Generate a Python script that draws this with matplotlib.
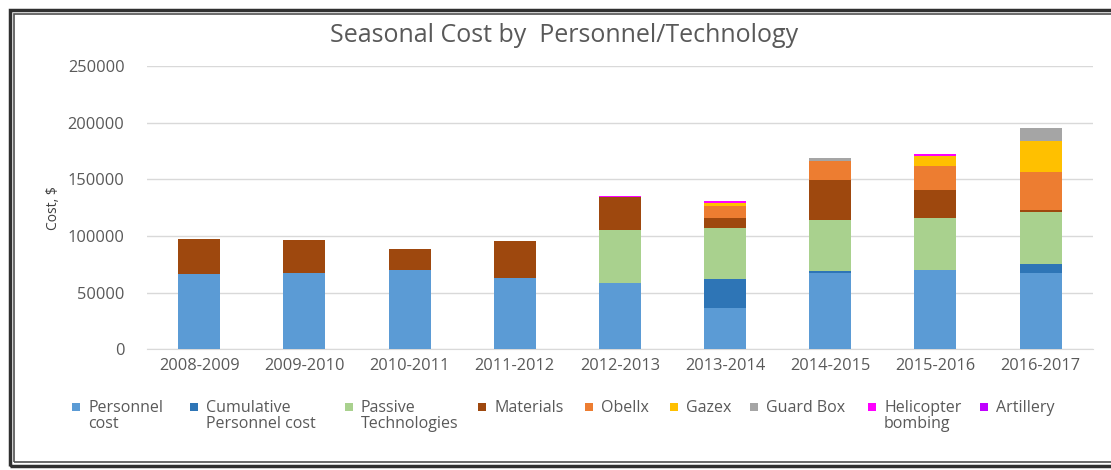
import matplotlib
matplotlib.use("Agg")
import matplotlib.pyplot as plt
from matplotlib.patches import Rectangle
import numpy as np

seasons = ["2008-2009", "2009-2010", "2010-2011", "2011-2012", "2012-2013",
           "2013-2014", "2014-2015", "2015-2016", "2016-2017"]
personnel = [66800, 67700, 69800, 63300, 58500, 36800, 67700, 70400, 67700]
cumulative = [0, 0, 0, 0, 0, 25000, 1200, 0, 8000]
passive = [0, 0, 0, 0, 46600, 45300, 45600, 45900, 45500]
materials = [30900, 29100, 18500, 32500, 29400, 9200, 35300, 24700, 2200]
obelix = [0, 0, 0, 0, 0, 10400, 16200, 21200, 32900]
gazex = [0, 0, 0, 0, 0, 2200, 0, 8800, 27900]
guard_box = [0, 0, 0, 0, 0, 0, 3300, 0, 11200]
helicopter = [0, 0, 0, 0, 600, 1800, 0, 1200, 0]
artillery = [0, 0, 0, 0, 500, 500, 0, 500, 0]

labels = ["Personnel\ncost", "Cumulative\nPersonnel cost", "Passive\nTechnologies",
          "Materials", "Obellx", "Gazex", "Guard Box", "Helicopter\nbombing", "Artillery"]
colors = ["#5B9BD5", "#2E75B6", "#A9D18E", "#9E480E", "#ED7D31", "#FFC000",
          "#A5A5A5", "#FF00FF", "#C000FF"]
series = [personnel, cumulative, passive, materials, obelix, gazex, guard_box,
          helicopter, artillery]
yticks = [0, 50000, 100000, 150000, 200000, 250000]

plt.rcParams['font.family'] = ['Open Sans', 'DejaVu Sans']

W, H = 1111, 470
fig = plt.figure(figsize=(W / 100, H / 100), dpi=100)
ax = fig.add_axes([0.132, 0.257, 0.852, 0.602])

x = np.arange(len(seasons))
bottom = np.zeros(len(seasons))
for vals, lab, col in zip(series, labels, colors):
    v = np.array(vals, dtype=float)
    ax.bar(x, v, 0.4, bottom=bottom, color=col, label=lab, zorder=3)
    bottom += v

ax.set_xlim(-0.5, len(seasons) - 0.5)
ax.set_ylim(0, 250000)
ax.set_yticks(yticks)
ax.set_yticklabels([str(t) for t in yticks])
ax.set_xticks(x)
ax.set_xticklabels(seasons)
ax.grid(axis='y', color='#D9D9D9', linewidth=1, zorder=0)
for s in ['top', 'right', 'left']:
    ax.spines[s].set_visible(False)
ax.spines['bottom'].set_color('#D9D9D9')
ax.tick_params(axis='both', length=0, colors='#595959', labelsize=11.8)
ax.tick_params(axis='y', pad=16)
ax.tick_params(axis='x', pad=6)
ax.set_ylabel("Cost, $", fontsize=10, color='#404040', labelpad=5)

fig.text(0.508, 0.925, "Seasonal Cost by  Personnel/Technology", ha='center', va='center',
         fontsize=18, color='#595959')

# legend (manual layout, Excel-style wrapped entries)
marker_x = [72, 190, 345, 478, 585, 670, 750, 868, 980]
for mx, lab, col in zip(marker_x, labels, colors):
    fig.patches.append(Rectangle((mx / W, (H - 411) / H), 8 / W, 8 / H,
                                 transform=fig.transFigure, facecolor=col, edgecolor='none'))
    for i, line in enumerate(lab.split("\n")):
        fig.text((mx + 16) / W, (H - 412 - 16 * i) / H, line, ha='left', va='baseline',
                 fontsize=11.5, color='#595959')

# frame (double border)
fig.patches.append(Rectangle((10 / W, 4 / H), 1.1, 456 / H, transform=fig.transFigure,
                             fill=False, edgecolor='#303030', linewidth=2.5))
fig.patches.append(Rectangle((14 / W, 8 / H), 1.1, 448 / H, transform=fig.transFigure,
                             fill=False, edgecolor='#505050', linewidth=1.2))

fig.savefig("out.png", dpi=100)
